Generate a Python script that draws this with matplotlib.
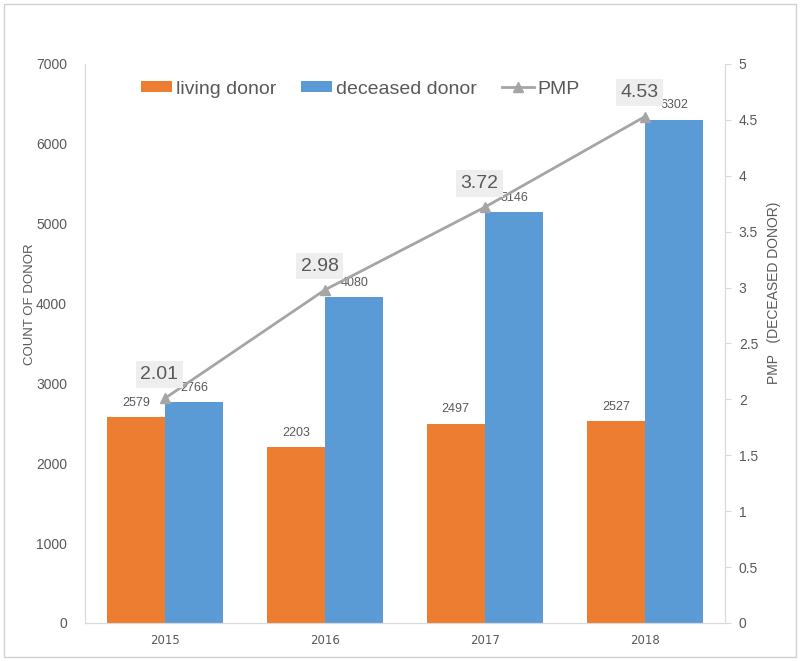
import numpy as np
import matplotlib as mpl
import matplotlib.pyplot as plt
from matplotlib.patches import Rectangle

years = ['2015', '2016', '2017', '2018']
living = [2579, 2203, 2497, 2527]
deceased = [2766, 4080, 5146, 6302]
pmp = [2.01, 2.98, 3.72, 4.53]

mpl.rcParams['font.family'] = ['Liberation Sans', 'DejaVu Sans']
txt_color = '#595959'
grid_color = '#d9d9d9'
c_orange = '#ED7D31'
c_blue = '#5B9BD5'
c_gray = '#A5A5A5'

x = np.arange(len(years))
width = 0.365

fig = plt.figure(figsize=(8, 6.61), dpi=100)
ax = fig.add_axes([0.10625, 0.0575, 0.8, 0.8457])
ax2 = ax.twinx()

b1 = ax.bar(x - width / 2, living, width, color=c_orange, label='living donor')
b2 = ax.bar(x + width / 2, deceased, width, color=c_blue, label='deceased donor')

for rects, vals in ((b1, living), (b2, deceased)):
    for r, v in zip(rects, vals):
        ax.annotate(str(v), (r.get_x() + r.get_width() / 2, v),
                    xytext=(0, 6), textcoords='offset points',
                    ha='center', va='bottom', fontsize=9, color=txt_color)

ln, = ax2.plot(x, pmp, color=c_gray, lw=2, marker='^', markersize=7,
               label='PMP')
for xi, v in zip(x, pmp):
    ax2.annotate('%.2f' % v, (xi, v), xytext=(-4, 11), textcoords='offset points',
                 ha='center', va='bottom', fontsize=14, color=txt_color,
                 bbox=dict(boxstyle='square,pad=0.25', fc='#eeeeee', ec='none'))

ax.set_xlim(-0.5, 3.5)
ax.set_ylim(0, 7000)
ax2.set_ylim(0, 5)
ax.set_yticks(np.arange(0, 7001, 1000))
ax2.set_yticks(np.arange(0, 5.01, 0.5))
ax2.set_yticklabels(['0', '0.5', '1', '1.5', '2', '2.5', '3', '3.5', '4', '4.5', '5'])
ax.set_xticks(x)
ax.set_xticklabels(years)

for a in (ax, ax2):
    a.spines['top'].set_visible(False)
    for s in ('left', 'right', 'bottom'):
        a.spines[s].set_color(grid_color)
ax.tick_params(axis='y', length=0, pad=13, labelsize=10, labelcolor=txt_color)
ax.tick_params(axis='x', length=0, pad=8, labelsize=10, labelcolor=txt_color)
ax2.tick_params(axis='y', length=4, color=grid_color, pad=6, labelsize=10,
                labelcolor=txt_color)
for lab in ax.get_xticklabels():
    lab.set_family('DejaVu Sans')
    lab.set_fontsize(8.5)

ax.set_ylabel('COUNT OF DONOR', fontsize=9.5, color=txt_color)
ax.yaxis.set_label_coords(-0.077, 0.57)
ax2.set_ylabel('PMP   (DECEASED DONOR)', fontsize=10, color=txt_color)
ax2.yaxis.set_label_coords(1.065, 0.59)

ax.legend([b1, b2, ln], ['living donor', 'deceased donor', 'PMP'],
          loc='center', bbox_to_anchor=(0.43, 0.955), ncol=3, frameon=False,
          fontsize=14, handlelength=1.6, handleheight=0.5, handletextpad=0.2,
          columnspacing=1.3, labelcolor=txt_color)

fig.patches.append(Rectangle((0.005, 0.006), 0.99, 0.988, transform=fig.transFigure,
                             fill=False, ec='#d0d0d0', lw=1))

fig.savefig('out.png', dpi=100)
